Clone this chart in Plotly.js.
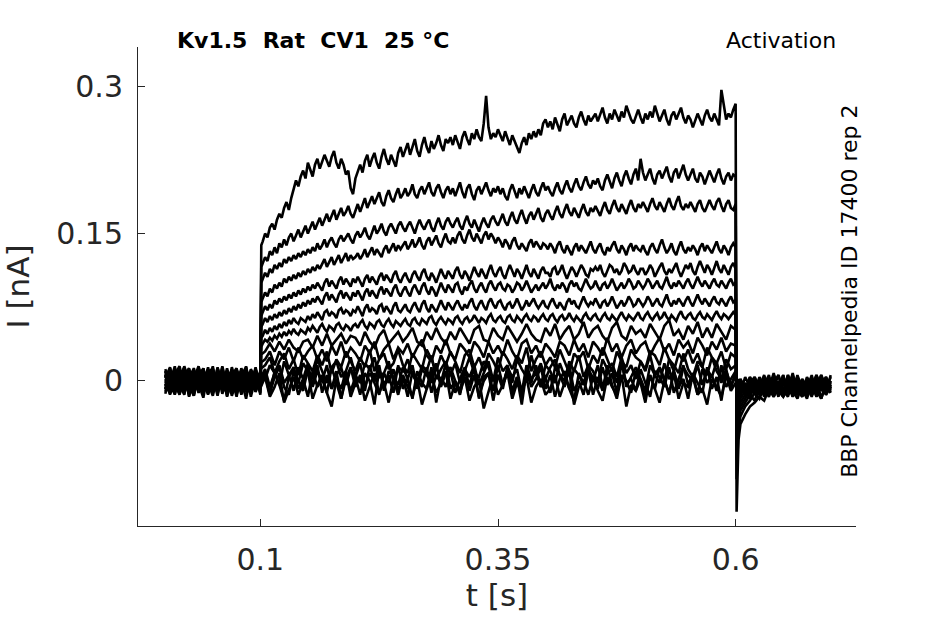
<!DOCTYPE html>
<html>
<head>
<meta charset="utf-8">
<script src="https://cdn.plot.ly/plotly-3.0.1.min.js"></script>
<style>
  html, body { margin: 0; padding: 0; background: #fff; }
  #chart { width: 945px; height: 624px; }
</style>
</head>
<body>
<div id="chart"></div>
<script>
// sample times in ms: holding (0-100), step (101-600), tail (601-700)
// small sweeps are read at 5 ms, the larger ones at 2.5 ms during the step
const tCoarse = [0,5,10,15,20,25,30,35,40,45,50,55,60,65,70,75,80,85,90,95,100,
  101,105,110,115,120,125,130,135,140,145,150,155,160,165,170,175,180,185,190,195,200,
  205,210,215,220,225,230,235,240,245,250,255,260,265,270,275,280,285,290,295,300,
  305,310,315,320,325,330,335,340,345,350,355,360,365,370,375,380,385,390,395,400,
  405,410,415,420,425,430,435,440,445,450,455,460,465,470,475,480,485,490,495,500,
  505,510,515,520,525,530,535,540,545,550,555,560,565,570,575,580,585,590,595,600,
  601,603,605,610,615,620,625,630,635,640,645,650,655,660,665,670,675,680,685,690,695,700];
const tFine = [0,5,10,15,20,25,30,35,40,45,50,55,60,65,70,75,80,85,90,95,100,
  101,
  102.5,105,107.5,110,112.5,115,117.5,120,122.5,125,127.5,130,132.5,135,137.5,140,142.5,145,147.5,150,
  152.5,155,157.5,160,162.5,165,167.5,170,172.5,175,177.5,180,182.5,185,187.5,190,192.5,195,197.5,200,
  202.5,205,207.5,210,212.5,215,217.5,220,222.5,225,227.5,230,232.5,235,237.5,240,242.5,245,247.5,250,
  252.5,255,257.5,260,262.5,265,267.5,270,272.5,275,277.5,280,282.5,285,287.5,290,292.5,295,297.5,300,
  302.5,305,307.5,310,312.5,315,317.5,320,322.5,325,327.5,330,332.5,335,337.5,340,342.5,345,347.5,350,
  352.5,355,357.5,360,362.5,365,367.5,370,372.5,375,377.5,380,382.5,385,387.5,390,392.5,395,397.5,400,
  402.5,405,407.5,410,412.5,415,417.5,420,422.5,425,427.5,430,432.5,435,437.5,440,442.5,445,447.5,450,
  452.5,455,457.5,460,462.5,465,467.5,470,472.5,475,477.5,480,482.5,485,487.5,490,492.5,495,497.5,500,
  502.5,505,507.5,510,512.5,515,517.5,520,522.5,525,527.5,530,532.5,535,537.5,540,542.5,545,547.5,550,
  552.5,555,557.5,560,562.5,565,567.5,570,572.5,575,577.5,580,582.5,585,587.5,590,592.5,595,597.5,600,
  601,603,605,610,615,620,625,630,635,640,645,650,655,660,665,670,675,680,685,690,695,700];

// current sweeps in pA (lowest step first), on tCoarse
const i01 = [6,-12,10,-4,-14,8,2,-10,13,-6,4,-15,9,-3,11,-12,0,7,-8,12,-4,
  -5,4,-16,-6,8,-22,-8,4,-14,-2,10,-18,-4,6,-12,-26,2,-8,10,-16,-2,
  4,-20,-6,8,-12,-2,-22,2,-14,6,-6,-16,2,-24,-8,6,-12,-2,10,-18,
  -2,-12,4,-20,-6,2,-28,-10,6,-14,-4,8,-18,-2,-12,4,-22,-6,2,-14,
  -8,6,-16,-2,10,-24,-6,0,-14,4,-10,-20,4,-6,-14,6,-26,-4,-10,2,
  -16,6,-8,-22,0,-12,8,-18,-2,-6,4,-14,-8,-24,2,-6,-16,6,-10,-2,
  -6,-14,2,-8,-18,-2,-12,4,-8,-16,-4,-10,6,-16,-6,0,-14,-8,2,-18,-4,-8];
const i02 = [-8,11,-2,-14,6,13,-9,3,-5,14,-12,1,8,-16,5,10,-3,-11,12,2,-7,
  -3,6,-14,10,-4,-20,4,12,-8,2,-16,10,-6,2,-12,14,-2,-18,6,-10,4,
  -14,8,0,-24,12,-4,6,-12,16,-8,2,-18,10,-2,-8,14,-22,4,-6,10,
  -12,2,14,-10,6,-16,0,8,-20,6,-4,12,-12,4,-24,10,-6,2,14,-8,
  6,-16,2,10,-8,-20,8,-2,12,-14,4,-10,16,-4,-18,6,0,-12,10,-2,
  -22,6,-8,14,2,-14,10,-6,2,-18,8,-2,-12,14,-8,4,-20,10,-4,6,
  -6,2,-10,-4,-16,2,-6,6,-12,-2,-10,6,-14,0,-8,-16,2,-4,-12,6,-6,-12];
const i03 = [10,-5,-13,4,14,-8,5,-12,2,11,-3,-10,15,-6,-1,12,-14,3,8,-5,6,
  0,8,-12,4,14,-6,-14,10,0,-10,12,-4,16,-12,6,-8,10,-18,2,14,-6,
  6,-10,16,-2,-14,8,-2,12,-10,4,-16,10,2,-6,14,-12,6,-2,18,-8,
  0,-14,10,-4,14,-18,4,8,-10,16,-4,12,-10,4,-16,10,-2,16,-6,2,
  -12,14,6,-6,16,-10,0,-14,10,4,-8,14,-4,8,-12,18,-2,2,-10,12,
  -2,-16,10,4,-6,14,-12,2,16,-4,8,-14,12,-2,6,-10,16,-6,2,10,
  -8,-4,-12,4,-6,-12,2,-4,-14,6,-8,0,-10,8,-12,-2,-6,2,-16,-4,4,-8];
const i04 = [-11,2,13,-6,-3,9,-15,7,12,-9,0,5,-8,13,-12,3,10,-5,-13,6,1,
  4,12,-6,8,16,-2,6,-10,14,2,18,-6,10,0,16,-8,6,14,-4,12,4,
  18,-6,8,0,16,-10,10,4,-4,14,2,16,-8,12,6,-2,18,-6,8,14,
  0,-10,12,4,16,-4,8,20,0,6,-8,14,4,12,-12,16,2,8,-6,16,
  10,-2,18,4,-8,12,6,-4,14,0,16,-6,8,12,-2,20,-6,4,14,2,
  -10,16,6,-2,18,2,10,-8,14,6,0,16,-4,12,4,20,-2,12,-8,10,
  -10,-6,2,-10,4,-6,-14,0,-8,8,-12,-2,-10,4,-4,-16,-6,2,-12,-2,-8,4];
const i05 = [3,14,-8,-1,-12,5,11,-3,-17,8,13,-6,2,-11,9,-4,6,14,-9,0,-12,
  8,2,16,8,-4,20,6,14,-2,18,10,2,22,10,-2,14,20,4,10,24,6,
  -2,18,12,24,4,8,20,0,14,10,22,6,-2,16,10,26,2,12,20,6,
  18,-2,10,24,8,4,20,14,0,24,10,16,-2,22,12,4,26,8,18,2,
  14,22,6,0,20,10,26,4,16,10,-2,22,12,18,4,24,8,16,2,20,
  10,26,6,14,0,22,16,8,28,12,4,20,14,6,24,10,2,22,12,16,
  -12,-8,0,-12,-2,4,-10,-2,-14,6,-6,-12,-2,-8,4,-14,-4,-10,6,-6,-12,-2];
const i06 = [-3,-13,6,15,-5,1,-10,12,4,-14,8,-2,-7,11,3,-16,9,-8,5,-3,10,
  13,16,24,8,20,28,12,22,6,26,18,10,26,16,30,8,22,14,30,20,10,
  24,14,32,10,22,28,12,18,32,16,8,28,20,12,32,22,10,26,16,30,
  20,8,26,32,14,24,10,28,20,10,30,22,12,26,18,34,10,22,30,16,
  24,14,32,20,8,28,22,30,12,26,18,34,22,10,30,20,14,32,24,20,
  12,30,26,16,34,22,10,28,20,32,18,28,14,34,24,18,30,12,28,24,
  -14,-10,-2,-10,4,-6,-14,-2,2,-10,-2,-14,-6,6,-12,-4,-8,6,-14,-6,0,-10];
const i07 = [12,-2,-10,5,8,-13,3,-7,10,0,-11,14,-5,-12,6,13,-8,2,-4,9,-14,
  19,22,30,16,30,22,34,20,34,22,30,36,22,32,20,36,26,40,24,34,28,
  20,36,28,40,22,32,38,22,34,28,38,24,34,42,26,20,36,28,42,28,
  22,38,32,24,40,34,24,40,28,36,26,42,30,22,38,42,28,36,24,38,
  32,24,40,36,26,42,30,38,24,40,34,26,44,30,38,24,36,42,28,36,
  40,26,36,44,30,38,26,42,34,40,28,44,36,26,40,32,44,30,38,36,
  -18,-12,-6,-12,2,-8,-2,-16,4,-10,-4,-12,6,-6,-14,-2,-8,4,-10,-4,-14,0];
const i08 = [-8,6,3,-12,10,-5,-15,9,-2,4,12,-10,0,8,-13,5,-6,15,-11,3,-2,
  27,30,38,30,40,32,42,34,30,40,42,34,46,36,48,36,42,48,38,46,44,
  36,50,40,34,46,52,38,44,50,40,46,54,40,36,50,42,54,44,38,50,
  42,54,46,38,52,56,42,40,54,46,42,56,48,40,48,58,48,42,40,54,
  46,58,42,50,56,42,48,60,44,52,56,46,40,54,60,46,42,56,48,52,
  44,58,50,42,56,62,46,52,42,56,48,60,44,54,44,58,50,42,56,52,
  -22,-14,-8,-14,-2,-10,4,-6,-12,2,-8,6,-14,-4,-10,2,-6,-16,-2,-8,4,-6];

// larger sweeps in pA, on tFine
const i09 = [2,-12,9,-5,13,-16,6,0,-8,12,-3,9,-13,3,-7,11,1,-18,7,-5,9,
  35,
  38,42,40,44,41,46,43,48,45,50,46,51,48,53,49,47,52,50,48,54,
  51,56,52,49,55,58,53,50,56,54,51,57,59,54,52,57,55,51,56,58,
  54,59,62,56,53,59,57,54,60,62,57,55,60,63,58,55,61,59,56,60,
  63,58,56,62,64,59,57,63,60,58,64,66,60,57,62,65,61,58,63,61,
  58,64,66,61,58,63,65,60,62,67,63,59,64,62,59,65,68,62,60,64,
  66,61,59,65,67,62,60,66,63,60,65,68,63,61,66,64,60,65,68,63,
  61,66,68,63,60,65,67,62,64,69,64,61,66,63,60,66,69,64,62,66,
  68,63,61,66,69,64,62,67,64,61,66,70,65,62,67,65,62,66,70,64,
  62,67,70,65,62,66,69,63,65,70,65,62,67,64,61,67,71,65,63,67,
  69,64,62,67,70,65,63,68,65,62,67,71,66,63,68,66,63,67,70,67,
  -28,-16,-12,-2,-10,4,-8,-2,-14,-6,6,-12,-4,-16,2,-8,-2,-12,-6,6,-10,-4];
const i10 = [-13,5,-6,11,-2,8,-12,14,-9,2,6,-5,12,-15,0,-8,13,-3,4,-11,3,
  44,
  46,52,48,54,50,56,52,58,54,60,56,62,58,64,60,58,64,62,60,66,
  62,68,64,70,66,62,70,72,66,70,68,64,72,74,68,72,70,66,72,70,
  76,70,66,74,78,70,74,72,68,76,78,70,76,72,68,76,80,72,70,74,
  78,72,70,76,80,74,70,78,82,74,70,78,74,70,76,82,76,72,80,76,
  72,78,82,76,72,78,74,80,84,76,72,78,82,76,72,80,84,78,74,80,
  82,76,72,78,80,74,78,84,78,72,76,82,76,80,84,78,74,78,82,76,
  74,80,84,78,74,80,76,72,80,84,78,82,76,74,80,86,80,76,80,78,
  84,78,74,80,82,76,80,86,80,74,78,82,76,80,86,82,76,78,84,80,
  76,80,86,82,76,80,84,78,76,82,88,80,76,82,78,84,80,76,82,86,
  80,76,82,88,82,78,84,80,76,82,86,80,78,84,80,76,82,86,80,82,
  -34,-20,-14,-6,-12,0,-8,-4,6,-14,-2,-10,-16,2,-6,-12,4,-4,-10,-18,-2,-8];
const i11 = [6,-3,15,-11,0,-6,9,-2,13,-12,-5,7,3,-10,14,-3,-11,6,-1,12,-8,
  55,
  58,64,60,66,62,68,64,70,66,72,68,74,70,76,72,78,74,80,76,82,
  78,84,80,86,82,78,86,90,82,88,84,80,88,92,84,90,86,82,90,86,
  92,86,82,90,94,86,92,88,84,92,96,88,94,90,86,94,98,90,86,92,
  96,90,86,94,98,92,88,96,100,92,88,96,92,86,94,100,94,90,98,94,
  90,98,100,92,88,96,92,98,102,94,90,96,100,94,90,98,102,96,92,98,
  100,94,92,98,96,90,94,100,98,92,96,102,96,90,94,98,92,96,100,94,
  98,104,96,92,98,94,100,96,90,98,102,96,100,94,92,98,104,98,94,96,
  102,96,92,98,100,94,98,104,98,92,96,100,94,98,104,100,94,96,102,98,
  94,98,104,100,94,98,102,96,94,100,106,98,94,100,96,102,98,94,100,104,
  98,94,100,106,100,96,102,98,94,100,104,98,96,102,98,94,100,104,98,100,
  -42,-24,-18,-10,-2,-14,-6,4,-10,-2,-16,0,-8,-12,4,-6,-2,-14,-8,2,-12,-4];
const i12 = [-5,13,-11,2,9,-15,0,10,-6,-3,15,-13,5,1,-9,7,-4,12,-16,3,6,
  66,
  70,76,72,78,74,82,78,84,80,86,82,88,84,90,86,92,88,94,90,96,
  92,98,94,100,96,92,100,104,96,102,98,94,102,106,98,104,100,96,104,100,
  106,100,96,104,108,100,106,102,98,106,110,102,108,104,100,108,112,104,100,106,
  110,104,100,108,112,106,102,110,114,106,102,110,106,100,108,114,108,104,112,108,
  104,112,116,108,104,112,108,102,110,116,110,106,114,108,104,112,118,110,106,112,
  116,108,104,112,118,112,106,114,110,104,112,118,110,106,114,108,104,112,116,110,
  110,106,114,116,108,112,118,110,104,110,116,112,106,112,118,114,108,106,114,112,
  116,112,118,110,106,112,118,116,110,114,108,112,120,116,110,112,118,112,108,114,
  114,108,112,118,114,106,112,116,120,112,108,114,110,116,120,112,106,112,118,114,
  120,112,108,116,122,116,110,118,114,108,116,122,114,110,118,112,108,116,120,114,
  -52,-28,-22,-14,-6,-12,0,-8,-16,-2,6,-10,-4,-14,2,-8,-12,-2,-16,4,-6,-10];
const i13 = [10,-8,0,-13,5,12,-3,-9,7,-2,-15,6,10,-5,2,-12,9,0,-6,14,-9,
  80,
  84,90,86,94,90,98,94,100,96,104,100,106,102,108,104,110,106,112,108,114,
  110,116,112,118,114,120,124,116,122,126,118,124,128,120,126,130,122,128,124,126,
  130,124,128,134,126,132,136,128,134,130,126,134,138,130,136,140,132,138,134,138,
  142,134,138,144,136,140,146,138,134,142,146,138,144,148,140,136,144,150,142,140,
  146,140,148,152,144,140,148,154,146,142,150,144,140,148,152,144,150,146,140,146,
  142,136,144,140,134,142,146,138,134,140,136,132,140,144,136,142,138,134,140,138,
  134,140,136,130,138,142,134,130,138,132,128,136,140,132,138,134,130,136,142,134,
  130,136,140,132,128,136,132,138,142,134,130,138,134,128,136,140,132,138,134,132,
  138,132,128,136,140,134,130,138,144,136,130,134,140,132,128,136,142,134,130,136,
  132,138,134,128,136,140,132,138,134,130,136,142,134,130,138,134,128,136,140,136,
  -64,-34,-26,-18,-10,-4,-14,2,-8,-12,0,-16,-6,4,-10,-2,-14,-6,6,-10,-4,-12];
const i14 = [-2,9,-14,7,-9,3,13,-5,-12,6,1,-8,14,-10,-3,9,-13,4,10,-6,0,
  100,
  104,110,106,114,110,118,114,120,116,124,120,126,122,128,124,130,126,132,128,134,
  130,136,132,140,134,138,144,136,142,146,140,136,144,148,142,146,150,144,140,148,
  152,146,150,156,148,144,152,158,150,154,160,152,148,156,160,154,150,158,162,156,
  152,158,162,156,150,158,164,158,154,160,164,156,152,160,166,158,154,162,166,160,
  156,162,166,158,154,162,168,160,156,164,158,152,160,166,160,156,164,168,162,158,
  164,170,162,158,166,172,164,160,168,174,166,160,168,172,164,170,176,166,162,170,
  174,168,164,172,178,170,166,174,180,172,168,176,170,166,174,180,172,168,176,172,
  178,172,168,176,182,174,170,178,184,176,172,180,174,170,178,184,176,172,180,176,
  182,176,172,180,186,178,174,182,176,172,180,186,178,174,182,188,178,174,180,176,
  182,176,172,180,184,176,172,178,184,178,174,182,186,178,172,180,184,176,174,180,
  -80,-40,-30,-22,-14,-20,-6,-12,0,-16,-6,-10,4,-14,-2,-8,-16,2,-10,-4,-12,6];
const i15 = [7,-14,4,12,-6,-10,2,15,-3,-13,9,3,-9,6,-15,0,11,-7,3,-1,-5,
  116,
  120,126,122,132,128,136,130,140,136,144,138,146,150,142,148,154,146,152,158,150,
  156,162,154,160,166,158,164,170,162,168,174,164,170,176,168,172,178,170,166,174,
  180,172,178,186,176,182,188,180,186,192,182,178,188,194,186,182,190,196,186,190,
  196,188,192,200,190,186,194,198,190,196,202,192,188,196,200,192,186,194,198,190,
  196,188,194,202,192,186,196,200,190,184,194,198,190,196,202,194,188,196,192,198,
  190,196,188,184,194,200,192,186,196,190,198,192,186,194,200,192,188,196,202,194,
  198,192,188,196,202,194,190,198,204,196,192,200,206,198,194,202,208,200,196,204,
  200,206,198,194,204,210,202,196,206,212,204,198,208,214,206,200,210,216,204,226,
  212,204,210,216,206,200,210,214,206,212,218,208,202,212,216,206,212,220,210,204,
  210,216,206,202,212,208,200,206,214,208,202,210,216,206,200,208,212,204,210,208,
  -100,-48,-36,-26,-20,-12,-18,-6,-14,2,-10,-16,-4,-12,6,-8,-18,-2,-10,4,-14,-6];
const i16 = [-9,3,8,-5,15,-1,-13,6,-10,9,-6,13,-2,-8,11,-14,4,-3,9,-11,5,
  138,
  142,150,146,156,160,154,164,170,166,176,182,174,186,196,204,198,208,214,206,222,
  214,208,220,226,216,222,230,224,218,228,234,222,216,226,220,210,214,196,190,206,
  214,220,212,224,230,218,226,232,222,216,228,236,226,220,230,224,218,232,238,228,
  236,242,230,238,246,234,228,240,248,238,232,244,236,242,250,240,234,246,242,248,
  240,250,244,236,248,254,246,240,252,246,256,248,244,262,290,258,246,252,248,256,
  250,244,254,246,240,250,244,238,232,242,248,240,252,246,254,248,256,250,262,266,
  258,264,256,268,262,254,266,272,260,266,270,262,258,268,274,266,260,270,264,268,
  272,264,270,278,268,262,272,266,276,270,264,274,268,280,272,266,262,270,276,268,
  262,272,266,274,268,280,272,264,270,276,266,260,270,274,266,272,278,268,262,270,
  266,258,264,272,266,260,270,276,268,264,272,266,260,296,280,266,272,268,276,282,
  -133,-60,-44,-34,-26,-22,-16,-20,-8,-14,-4,-16,-2,-10,-18,-4,-12,2,-14,-6,-10,0];

const coarseSweeps = [i01, i02, i03, i04, i05, i06, i07, i08];
const fineSweeps = [i09, i10, i11, i12, i13, i14, i15, i16];

const xTicks = [0.1, 0.35, 0.6];
const xTickText = ['0.1', '0.35', '0.6'];
const yTicks = [0, 0.15, 0.3];
const yTickText = ['0', '0.15', '0.3'];

function sweepTrace(t, s, w) {
  return {
    x: t.map(v => v / 1000),     // ms -> s
    y: s.map(v => v / 1000),     // pA -> nA
    type: 'scatter',
    mode: 'lines',
    line: {color: '#000000', width: w},
    hoverinfo: 'skip',
    showlegend: false
  };
}

const data = coarseSweeps.map(s => sweepTrace(tCoarse, s, 2.6))
  .concat(fineSweeps.map(s => sweepTrace(tFine, s, 2.6)));

const ink = '#262626';
const font = 'DejaVu Sans, sans-serif';

const layout = {
  width: 945,
  height: 624,
  margin: {l: 138, r: 89, t: 47, b: 98},
  paper_bgcolor: '#ffffff',
  plot_bgcolor: '#ffffff',
  font: {family: font, color: ink},
  xaxis: {
    range: [-0.0287, 0.7266],
    tickvals: xTicks,
    ticktext: xTickText,
    ticks: 'inside',
    ticklen: 7,
    tickcolor: ink,
    showline: true,
    linecolor: ink,
    linewidth: 1,
    showgrid: false,
    zeroline: false,
    ticklabelstandoff: 7,
    tickfont: {family: font, size: 30, color: ink},
    title: {text: 't [s]', font: {family: font, size: 31, color: ink}, standoff: 0}
  },
  yaxis: {
    range: [-0.1475, 0.3397],
    tickvals: yTicks,
    ticktext: yTickText,
    ticks: 'inside',
    ticklen: 7,
    tickcolor: ink,
    showline: true,
    linecolor: ink,
    linewidth: 1,
    showgrid: false,
    zeroline: false,
    ticklabelstandoff: 8,
    tickfont: {family: font, size: 30, color: ink},
    title: {text: 'I [nA]', font: {family: font, size: 31, color: ink}, standoff: 18}
  },
  annotations: [
    {
      text: '<b>Kv1.5\u00a0\u00a0Rat\u00a0\u00a0CV1\u00a0\u00a025\u00a0°C</b>',
      xref: 'paper', yref: 'paper', x: 0.0515, y: 1.0146,
      xanchor: 'left', yanchor: 'middle', showarrow: false,
      font: {family: font, size: 22, color: '#000000'}
    },
    {
      text: 'Activation',
      xref: 'paper', yref: 'paper', x: 0.975, y: 1.0146,
      xanchor: 'right', yanchor: 'middle', showarrow: false,
      font: {family: font, size: 22, color: '#000000'}
    },
    {
      text: 'BBP Channelpedia ID 17400 rep 2',
      xref: 'paper', yref: 'paper', x: 0.99, y: 0.4906,
      xanchor: 'center', yanchor: 'middle', textangle: -90, showarrow: false,
      font: {family: font, size: 22, color: '#000000'}
    }
  ]
};

Plotly.newPlot('chart', data, layout, {displayModeBar: false, staticPlot: true});
</script>
</body>
</html>
